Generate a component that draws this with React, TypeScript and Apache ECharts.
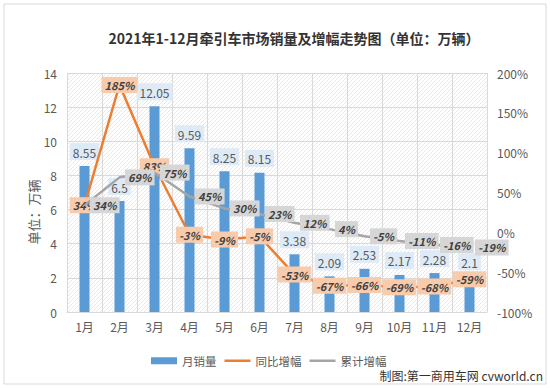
import React, { useEffect, useRef } from "react";
import * as echarts from "echarts";

const months = ["1月", "2月", "3月", "4月", "5月", "6月", "7月", "8月", "9月", "10月", "11月", "12月"];
const monthlySales = [8.55, 6.5, 12.05, 9.59, 8.25, 8.15, 3.38, 2.09, 2.53, 2.17, 2.28, 2.1];
const yoyGrowth = [34, 185, 83, -3, -9, -5, -53, -67, -66, -69, -68, -59];
const cumGrowth = [34, 69, 75, 45, 30, 23, 12, 4, -5, -11, -16, -19];
const seriesNames = ["月销量", "同比增幅", "累计增幅"];
const titleText = "2021年1-12月牵引车市场销量及增幅走势图（单位：万辆）";
const unitText = "单位：万辆";
const creditText = "制图:第一商用车网 cvworld.cn";

const FONT = '"Noto Sans CJK SC", "Noto Sans", sans-serif';

const hatchSvg =
  "<svg xmlns='http://www.w3.org/2000/svg' width='4' height='4'>" +
  "<path d='M-1,1 L1,-1 M0,4 L4,0 M3,5 L5,3' stroke='#e2e2e2' stroke-width='0.8'/></svg>";
const hatchUrl = "data:image/svg+xml;charset=utf-8," + encodeURIComponent(hatchSvg);
const lineIcon = "path://M0,0 L26,0 L26,2.5 L0,2.5 Z";

export default function App() {
  const ref = useRef<HTMLDivElement>(null);
  useEffect(() => {
    document.body.style.margin = "0";
    const chart = echarts.init(ref.current!, undefined, { renderer: "svg" });
    const pctLabelBase = {
      show: true,
      fontStyle: "italic" as const,
      fontWeight: "bold" as const,
      fontSize: 11,
      color: "#404040",
      padding: [3, 3, 2, 3],
      formatter: (p: any) => p.value + "%",
    };
    chart.setOption({
      animation: false,
      backgroundColor: "#ffffff",
      textStyle: { fontFamily: FONT },
      title: {
        text: titleText,
        left: 289,
        textAlign: "center",
        top: 26,
        textStyle: { fontSize: 14, fontWeight: "bold", color: "#333333", fontFamily: FONT },
      },
      grid: {
        left: 67,
        right: 63,
        top: 73,
        bottom: 76,
        show: true,
        borderWidth: 0,
        backgroundColor: {
          image: hatchUrl,
          repeat: "repeat",
          imageWidth: 4,
          imageHeight: 4,
        } as any,
      },
      legend: {
        data: [
          { name: seriesNames[0], icon: "rect" },
          { name: seriesNames[1], icon: lineIcon },
          { name: seriesNames[2], icon: lineIcon },
        ],
        left: 146,
        top: 350,
        itemWidth: 26,
        itemHeight: 7,
        itemGap: 8,
        textStyle: { fontSize: 11.5, color: "#595959", fontFamily: FONT },
      },
      xAxis: {
        type: "category",
        data: months,
        axisLine: { show: true, lineStyle: { color: "#d9d9d9" } },
        axisTick: { show: false },
        axisLabel: { color: "#595959", fontSize: 12, margin: 8 },
        splitLine: { show: true, lineStyle: { color: "#d9d9d9", width: 1 } },
      },
      yAxis: [
        {
          type: "value",
          min: 0,
          max: 14,
          interval: 2,
          axisLine: { show: false },
          axisTick: { show: false },
          axisLabel: { color: "#595959", fontSize: 12, margin: 10 },
          splitLine: { show: true, lineStyle: { color: "#d9d9d9", width: 1 } },
        },
        {
          type: "value",
          min: -100,
          max: 200,
          interval: 50,
          axisLine: { show: false },
          axisTick: { show: false },
          axisLabel: { color: "#595959", fontSize: 12, margin: 10, formatter: "{value}%" },
          splitLine: { show: false },
        },
      ],
      series: [
        {
          name: seriesNames[0],
          type: "bar",
          data: monthlySales,
          barWidth: 10,
          itemStyle: { color: "#5b9bd5" },
          label: {
            show: true,
            position: "top",
            distance: 6,
            fontSize: 12,
            color: "#595959",
            backgroundColor: "#deebf7",
            padding: [3, 3, 2, 3],
          },
          z: 2,
        },
        {
          name: seriesNames[1],
          type: "line",
          yAxisIndex: 1,
          data: yoyGrowth,
          symbol: "circle",
          symbolSize: 1,
          showSymbol: true,
          lineStyle: { color: "#ed7d31", width: 2.5 },
          itemStyle: { color: "#ed7d31" },
          label: { ...pctLabelBase, position: "inside", backgroundColor: "#f8cbad" },
          z: 3,
        },
        {
          name: seriesNames[2],
          type: "line",
          yAxisIndex: 1,
          data: cumGrowth,
          symbol: "circle",
          symbolSize: 1,
          showSymbol: true,
          lineStyle: { color: "#a5a5a5", width: 2.5 },
          itemStyle: { color: "#a5a5a5" },
          label: { ...pctLabelBase, position: "right", distance: 5, backgroundColor: "#d6d6d6" },
          z: 4,
        },
      ],
      graphic: [
        {
          type: "rect",
          shape: { x: 4, y: 4, width: 542, height: 380 },
          style: { fill: "none", stroke: "#d9d9d9", lineWidth: 1 },
          silent: true,
        },
        {
          type: "text",
          x: 33,
          y: 212,
          rotation: Math.PI / 2,
          style: {
            text: unitText,
            fontSize: 13,
            fill: "#595959",
            align: "center",
            verticalAlign: "middle",
            fontFamily: FONT,
          },
        },
        {
          type: "text",
          x: 543,
          y: 375,
          style: {
            text: creditText,
            fontSize: 12,
            fill: "#333333",
            align: "right",
            verticalAlign: "middle",
            fontFamily: FONT,
          },
        },
      ],
    });
    return () => chart.dispose();
  }, []);
  return <div ref={ref} style={{ width: 550, height: 388 }} />;
}
